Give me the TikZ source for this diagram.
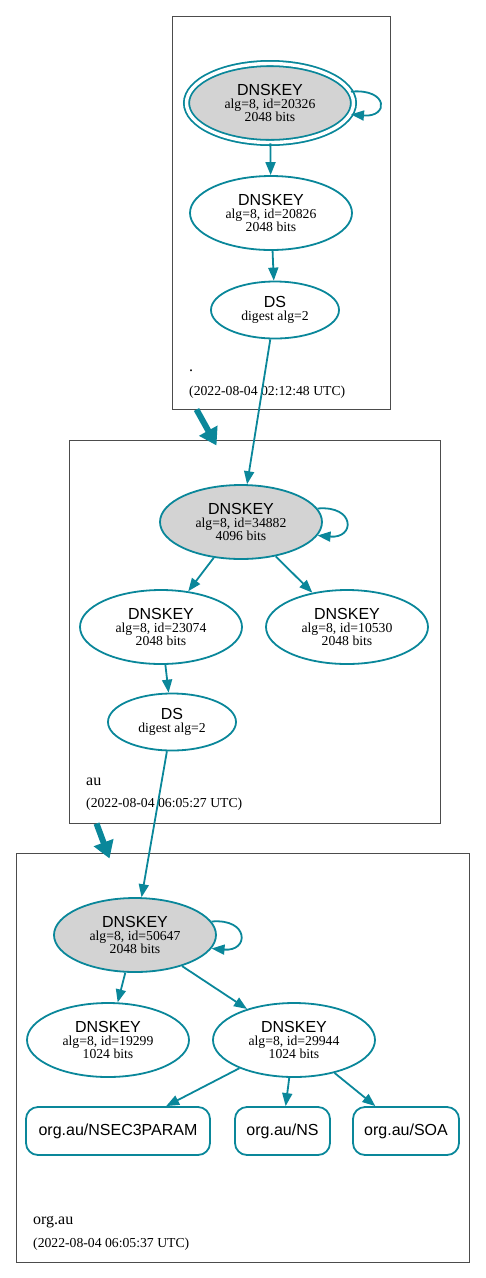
\documentclass[tikz,border=0pt]{standalone}
\usepackage{fontspec}
\setmainfont{Liberation Serif}
\setsansfont{Liberation Sans}
\usetikzlibrary{shapes.geometric, arrows.meta, calc}
\definecolor{dnsteal}{HTML}{0A879A}
\definecolor{keygray}{HTML}{D3D3D3}
\newcommand{\keytext}[2]{{\sffamily\fontsize{16}{16}\selectfont DNSKEY}\\alg=8, id=#1\\#2 bits}
\newcommand{\dstext}{{\sffamily\fontsize{16}{16}\selectfont DS}\\digest alg=2}

\begin{document}
\begin{tikzpicture}[x=1pt,y=1pt,
  key/.style={draw=dnsteal,shape=ellipse,line width=1.8pt,inner sep=0pt,minimum width=162pt,minimum height=74pt,align=center,font=\fontsize{13.7}{13.3}\selectfont},
  ksk/.style={key,fill=keygray},
  dsnode/.style={key,minimum width=128pt,minimum height=57pt},
  rrset/.style={draw=dnsteal,rounded corners=12pt,line width=1.8pt,minimum height=48pt,inner sep=0pt,font=\sffamily\fontsize{16}{16}\selectfont},
  zone/.style={draw=black!70,line width=1pt,inner sep=0pt},
  zonename/.style={anchor=base west,inner sep=0pt,font=\fontsize{16}{16}\selectfont},
  stamp/.style={anchor=base west,inner sep=0pt,font=\fontsize{13.7}{14}\selectfont},
  trust/.style={draw=dnsteal,line width=1.8pt,-{Triangle[length=13pt,width=10pt]}},
  delegation/.style={draw=dnsteal,line width=6pt,-{Triangle[length=17pt,width=20pt]}}]
  \useasboundingbox (0,0) rectangle (485,-1278);
  % zones
  \node[zone,minimum width=218pt,minimum height=393pt] (rootzone) at (281,-212.5) {};
  \node[zone,minimum width=371pt,minimum height=383pt] (auzone) at (254.5,-631.5) {};
  \node[zone,minimum width=453pt,minimum height=409pt] (orgzone) at (242.5,-1057.5) {};
  \node[zonename] (rootname) at (189,-371) {.};
  \node[stamp] (rootstamp) at (189,-395) {(2022-08-04 02:12:48 UTC)};
  \node[zonename] (auname) at (86,-785) {au};
  \node[stamp] (austamp) at (86,-807) {(2022-08-04 06:05:27 UTC)};
  \node[zonename] (orgname) at (33,-1224) {org.au};
  \node[stamp] (orgstamp) at (33,-1247) {(2022-08-04 06:05:37 UTC)};
  % root
  \path (270,-103) node[ksk,double=white,double distance=3.4pt,minimum width=167pt,minimum height=79pt] (rootksk) {\keytext{20326}{2048}}
  (271,-213) node[key] (rootzsk) {\keytext{20826}{2048}}
  (275,-310) node[dsnode] (rootds) {\dstext};
  % au
  \path (241,-522) node[ksk] (auksk) {\keytext{34882}{4096}}
  (161,-627) node[key] (auzsk) {\keytext{23074}{2048}}
  (347,-627) node[key] (auzsk2) {\keytext{10530}{2048}}
  (172,-722) node[dsnode] (auds) {\dstext};
  % org.au
  \path (135,-935) node[ksk] (orgksk) {\keytext{50647}{2048}}
  (108,-1040) node[key] (orgzsk) {\keytext{19299}{1024}}
  (294,-1040) node[key] (orgzsk2) {\keytext{29944}{1024}}
  (118,-1131) node[rrset,minimum width=184pt] (nsec3param) {org.au/NSEC3PARAM}
  (282.5,-1131) node[rrset,minimum width=95pt] (ns) {org.au/NS}
  (406,-1131) node[rrset,minimum width=106pt] (soa) {org.au/SOA};
  % edges
  \draw[trust] (rootksk.8) to[out=5,in=-5,distance=38pt] (rootksk.-8);
  \draw[trust] (rootksk) -- (rootzsk);
  \draw[trust] (rootzsk) -- (rootds);
  \draw[trust] (rootds) -- (auksk);
  \draw[trust] (auksk.10) to[out=5,in=-5,distance=38pt] (auksk.-10);
  \draw[trust] (auksk) -- (auzsk);
  \draw[trust] (auksk) -- (auzsk2);
  \draw[trust] (auzsk) -- (auds);
  \draw[trust] (auds) -- (orgksk);
  \draw[trust] (orgksk.10) to[out=5,in=-5,distance=38pt] (orgksk.-10);
  \draw[trust] (orgksk) -- (orgzsk);
  \draw[trust] (orgksk) -- (orgzsk2);
  \draw[trust] (orgzsk2) -- (nsec3param);
  \draw[trust] (orgzsk2) -- (ns);
  \draw[trust] (orgzsk2) -- (soa);
  \draw[delegation] ([xshift=25pt]rootzone.south west) -- ([xshift=148pt,yshift=-6pt]auzone.north west);
  \draw[delegation] ([xshift=28pt]auzone.south west) -- ([xshift=94pt,yshift=-6pt]orgzone.north west);
\end{tikzpicture}
\end{document}
